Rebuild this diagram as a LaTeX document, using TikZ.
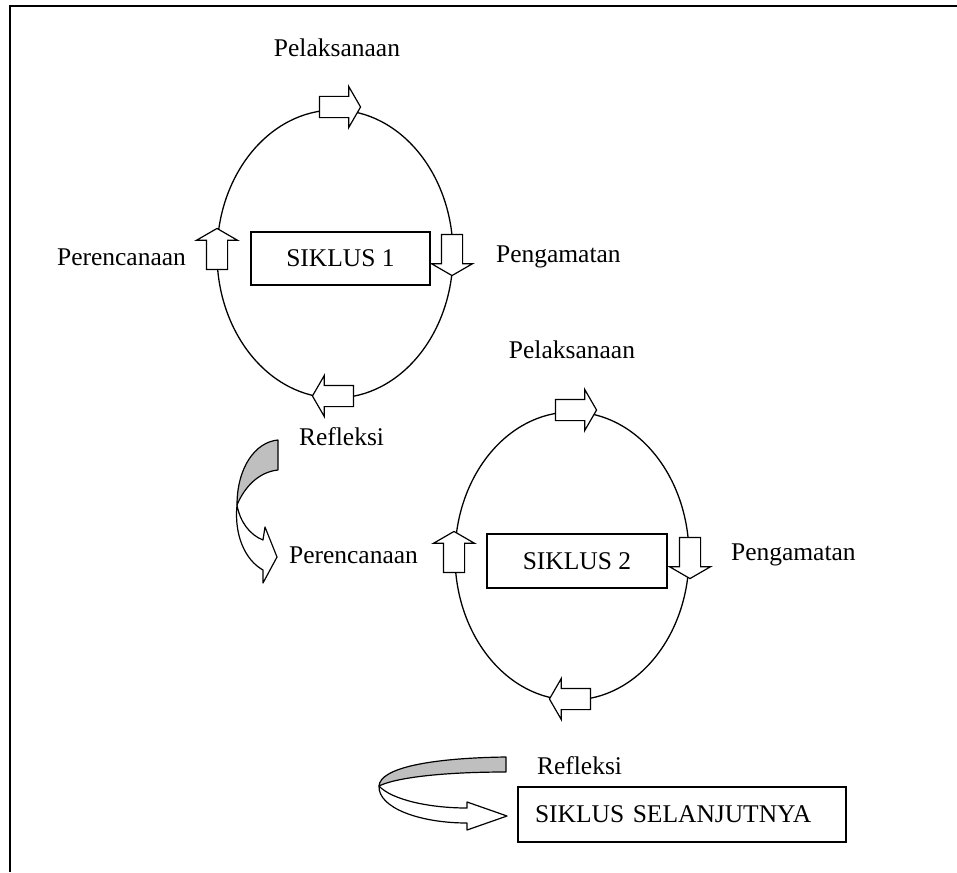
\documentclass[tikz,border=0pt]{standalone}
\usepackage{fontspec}
\setmainfont{Liberation Serif}
\usetikzlibrary{shapes.arrows}

\begin{document}
\begin{tikzpicture}[x=0.5pt, y=-0.5pt, font=\fontsize{12.75}{15}\selectfont,
  frameline/.style={line width=1.4pt},
  cycleline/.style={line width=0.65pt},
  boxnode/.style={draw, line width=0.8pt, inner sep=0pt},
  blockarrow/.style={single arrow, draw, fill=white, line width=0.6pt, inner sep=5pt, outer sep=0pt,
    minimum height=20.5pt, single arrow head extend=5pt, single arrow tip angle=120},
  ribbon/.style={draw, fill=white, line width=0.6pt, line join=round}]
  \useasboundingbox (0,0) rectangle (957,872);
  \draw[frameline] (9,6) -- (957,6);
  \draw[frameline] (10,6) -- (10,872);
  % siklus 1
  \draw[cycleline] (335,254) ellipse [x radius=118, y radius=144];
  \node[boxnode, minimum width=89.5pt, minimum height=26.5pt] (siklus1) at (340.5,258.5) {SIKLUS 1};
  \node[blockarrow] (arrPelak1) at (337,107) {};
  \node[blockarrow, rotate=-90] (arrPenga1) at (452,252) {};
  \node[blockarrow, rotate=180] (arrRefl1) at (336,396) {};
  \node[blockarrow, rotate=90] (arrPeren1) at (217,252) {};
  \node (pelak1) at (337,48) {Pelaksanaan};
  \node[anchor=east] (peren1) at (193,257) {Perencanaan};
  \node[anchor=west] (penga1) at (489,257) {Pengamatan};
  % refleksi 1
  \path[ribbon] (237,505) .. controls (240,522) and (250,535) .. (263,540) -- (265,527) -- (277,557)
    -- (263,583) -- (263,570) .. controls (245,560) and (234,535) .. (237,505) -- cycle;
  \path[ribbon, fill=gray!50] (278,440) .. controls (255,442) and (237,468) .. (237,505)
    .. controls (244,488) and (258,472) .. (278,470) -- cycle;
  \node[anchor=west] (refl1) at (292,437) {Refleksi};
  % siklus 2
  \draw[cycleline] (572,556) ellipse [x radius=117, y radius=144];
  \node[boxnode, minimum width=90pt, minimum height=27pt] (siklus2) at (577,561) {SIKLUS 2};
  \node[blockarrow] (arrPelak2) at (573,410) {};
  \node[blockarrow, rotate=-90] (arrPenga2) at (690,555) {};
  \node[blockarrow, rotate=180] (arrRefl2) at (573,699) {};
  \node[blockarrow, rotate=90] (arrPeren2) at (454,555) {};
  \node (pelak2) at (572,350) {Pelaksanaan};
  \node[anchor=east] (peren2) at (425,555) {Perencanaan};
  \node[anchor=west] (penga2) at (724,555) {Pengamatan};
  % refleksi 2
  \path[ribbon] (379,786) .. controls (392,800) and (430,808) .. (467,808) -- (467,802) -- (507,816)
    -- (467,830) -- (467,823) .. controls (420,823) and (378,808) .. (379,786) -- cycle;
  \path[ribbon, fill=gray!50] (506,757) .. controls (430,758) and (380,768) .. (379,786)
    .. controls (395,778) and (440,772) .. (506,772) -- cycle;
  \node[anchor=west] (refl2) at (530,766) {Refleksi};
  \node[boxnode, minimum width=164pt, minimum height=27.5pt, text width=147pt, align=left] (lanjut) at (682,814.5) {SIKLUS SELANJUTNYA};
\end{tikzpicture}
\end{document}
